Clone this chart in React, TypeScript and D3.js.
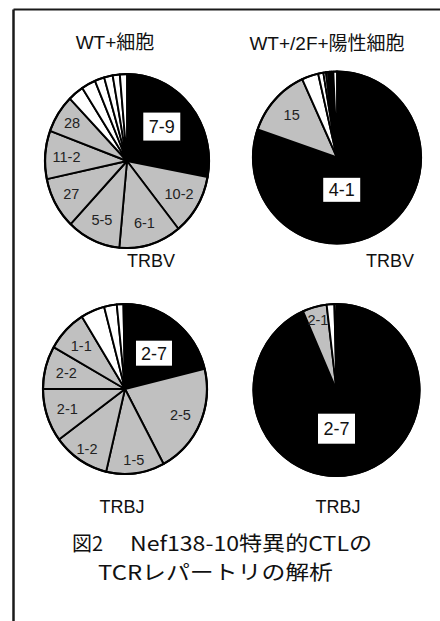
import React from "react";
import * as d3 from "d3";

// ---- data ----
const panelTitles = ["WT+細胞", "WT+/2F+陽性細胞"];
const rowLabels = ["TRBV", "TRBJ"];

const wtTrbvLabels = ["7-9", "10-2", "6-1", "5-5", "27", "11-2", "28", "", "", "", "", "", ""];
const wtTrbvValues = [28.0, 11.3, 12.3, 10.6, 9.6, 9.0, 7.1, 3.1, 2.8, 1.9, 1.7, 1.4, 1.4];

const dpTrbvLabels = ["4-1", "15", "", "", "", "", "", "", "", ""];
const dpTrbvValues = [80.3, 12.9, 3.2, 1.0, 0.5, 0.4, 0.35, 0.35, 0.3, 0.7];

const wtTrbjLabels = ["2-7", "2-5", "1-5", "1-2", "2-1", "2-2", "1-1", "", "", "", ""];
const wtTrbjValues = [21.2, 21.0, 11.5, 11.2, 10.1, 8.2, 8.0, 4.7, 2.5, 1.3, 0.3];

const dpTrbjLabels = ["2-7", "2-1", "", ""];
const dpTrbjValues = [93.4, 4.7, 1.5, 0.4];

const captionLine1 = ["図2", "Nef138-10特異的CTLの"];
const captionLine2 = "TCRレパートリの解析";

const LATIN = "'Liberation Sans', Arial, Helvetica, 'Noto Sans CJK JP', sans-serif";
const CJK = "'Noto Sans CJK JP', 'Noto Sans', sans-serif";

type PieCfg = {
  labels: string[];
  values: number[];
  cx: number;
  cy: number;
  rx: number;
  ry: number;
  box: { a: number; r: number; w: number; h: number };
  labelR: Record<string, number>;
  rowLabelX: number;
  rowLabelY: number;
  rowLabel: string;
};

export default function App() {
  const W = 440;
  const H = 621;

  const pies: PieCfg[] = [
    {
      labels: wtTrbvLabels, values: wtTrbvValues, cx: 127, cy: 161, rx: 82, ry: 87,
      box: { a: 47, r: 0.58, w: 37, h: 28 }, labelR: { "28": 0.8, "27": 0.78 },
      rowLabel: rowLabels[0], rowLabelX: 151, rowLabelY: 266.5,
    },
    {
      labels: dpTrbvLabels, values: dpTrbvValues, cx: 337, cy: 157.5, rx: 84, ry: 86,
      box: { a: 171.5, r: 0.38, w: 37, h: 24 }, labelR: { "15": 0.73 },
      rowLabel: rowLabels[0], rowLabelX: 390, rowLabelY: 266.5,
    },
    {
      labels: wtTrbjLabels, values: wtTrbjValues, cx: 125, cy: 389, rx: 82, ry: 85,
      box: { a: 40, r: 0.55, w: 36, h: 25 }, labelR: { "1-5": 0.84, "1-2": 0.84 },
      rowLabel: rowLabels[1], rowLabelX: 122, rowLabelY: 513,
    },
    {
      labels: dpTrbjLabels, values: dpTrbjValues, cx: 336.5, cy: 390, rx: 83, ry: 86,
      box: { a: 180, r: 0.45, w: 37, h: 30 }, labelR: { "2-1": 0.85 },
      rowLabel: rowLabels[1], rowLabelX: 338, rowLabelY: 513,
    },
  ];

  const pieGen = d3.pie<number>().sort(null).value((d) => d).startAngle(0).endAngle(2 * Math.PI);

  return (
    <svg
      width={W}
      height={H}
      viewBox={`0 0 ${W} ${H}`}
      style={{ position: "absolute", left: 0, top: 0, background: "#fff" }}
    >
      <rect x={0} y={0} width={W} height={H} fill="#fff" />
      {/* frame (open on right and bottom) */}
      <line x1={13.5} y1={9.5} x2={W} y2={9.5} stroke="#1a1a1a" strokeWidth={2} />
      <line x1={13.5} y1={9.5} x2={13.5} y2={H} stroke="#1a1a1a" strokeWidth={2.5} />

      {/* titles */}
      <text x={115} y={49} fontFamily={LATIN} fontSize={19} textAnchor="middle" fill="#111">
        {panelTitles[0]}
      </text>
      <text x={327} y={49.5} fontFamily={LATIN} fontSize={19} textAnchor="middle" fill="#111">
        {panelTitles[1]}
      </text>

      {pies.map((p, pi) => {
        const arcs = pieGen(p.values);
        const arcGen = d3.arc<d3.PieArcDatum<number>>().innerRadius(0).outerRadius(p.rx);
        const sy = p.ry / p.rx;
        const pos = (aRad: number, r: number) => [
          p.cx + Math.sin(aRad) * r * p.rx,
          p.cy - Math.cos(aRad) * r * p.ry,
        ];
        const bAng = (p.box.a * Math.PI) / 180;
        const [bx, by] = pos(bAng, p.box.r);
        return (
          <g key={pi}>
            <g transform={`translate(${p.cx},${p.cy}) scale(1,${sy})`}>
              {arcs.map((a, i) => {
                const fill = i === 0 ? "#000" : p.labels[i] ? "#c0c0c0" : "#fff";
                return (
                  <path
                    key={i}
                    d={arcGen(a) || ""}
                    fill={fill}
                    stroke="#000"
                    strokeWidth={1.9}
                    strokeLinejoin="round"
                    vectorEffect="non-scaling-stroke"
                  />
                );
              })}
              <ellipse
                cx={0}
                cy={0}
                rx={p.rx}
                ry={p.rx}
                fill="none"
                stroke="#000"
                strokeWidth={2.2}
                vectorEffect="non-scaling-stroke"
              />
            </g>
            {arcs.map((a, i) => {
              if (i === 0 || !p.labels[i]) return null;
              const mid = (a.startAngle + a.endAngle) / 2;
              const r = p.labelR[p.labels[i]] ?? 0.74;
              const [x, y] = pos(mid, r);
              return (
                <text
                  key={"l" + i}
                  x={x}
                  y={y}
                  dy="0.36em"
                  fontFamily={LATIN}
                  fontSize={14.5}
                  textAnchor="middle"
                  fill="#222"
                >
                  {p.labels[i]}
                </text>
              );
            })}
            <rect
              x={bx - p.box.w / 2}
              y={by - p.box.h / 2}
              width={p.box.w}
              height={p.box.h}
              fill="#fff"
            />
            <text
              x={bx}
              y={by}
              dy="0.36em"
              fontFamily={LATIN}
              fontSize={18}
              textAnchor="middle"
              fill="#111"
            >
              {p.labels[0]}
            </text>
            <text
              x={p.rowLabelX}
              y={p.rowLabelY}
              fontFamily={LATIN}
              fontSize={18}
              textAnchor="middle"
              fill="#111"
            >
              {p.rowLabel}
            </text>
          </g>
        );
      })}

      {/* caption */}
      <text x={72} y={551} fontFamily={CJK} fontSize={20} fill="#111">
        {captionLine1[0]}
      </text>
      <text x={130} y={551} fontFamily={CJK} fontSize={20} fill="#111" textLength={242} lengthAdjust="spacingAndGlyphs">
        {captionLine1[1]}
      </text>
      <text x={98} y={580} fontFamily={CJK} fontSize={20} fill="#111" textLength={235} lengthAdjust="spacingAndGlyphs">
        {captionLine2}
      </text>
    </svg>
  );
}
